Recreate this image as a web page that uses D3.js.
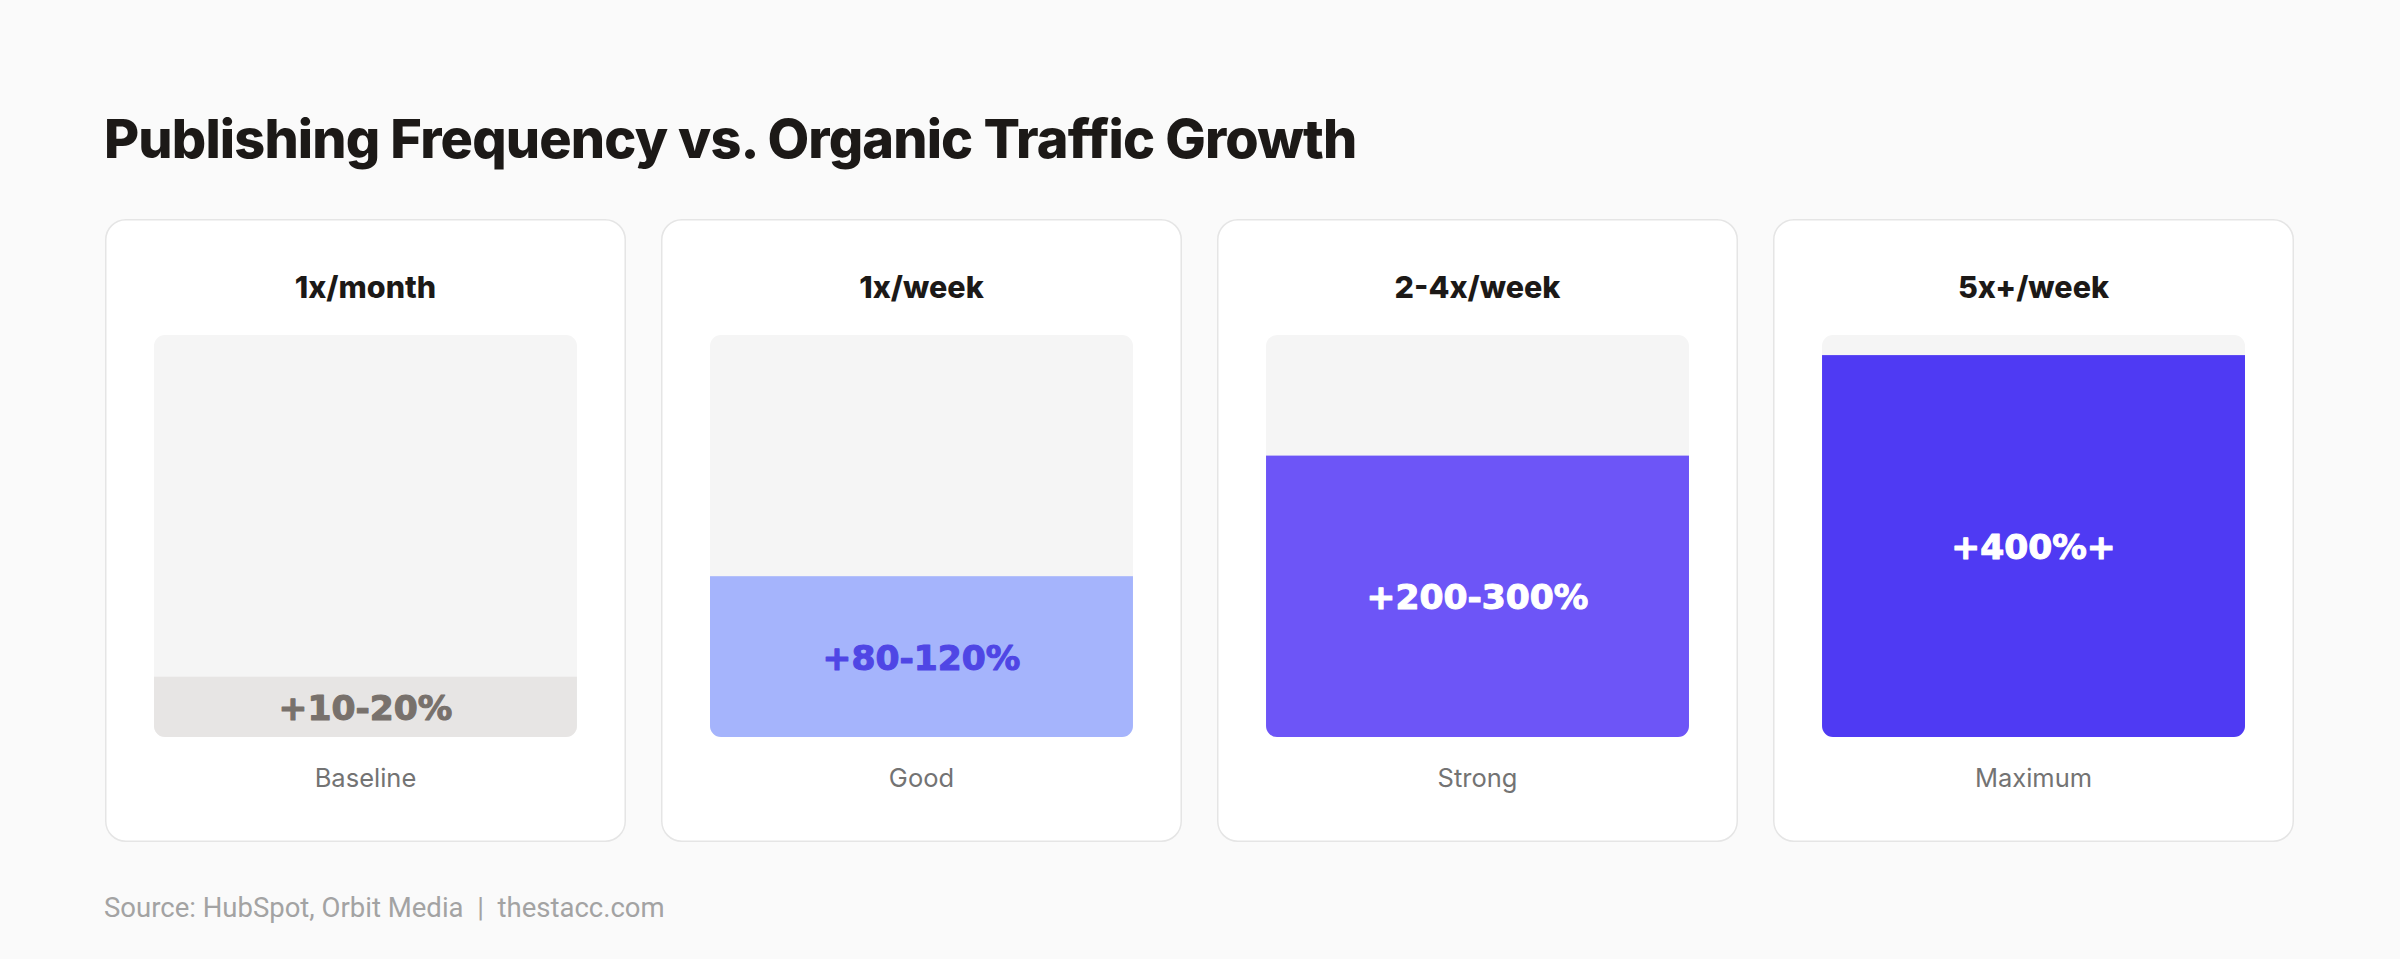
<!DOCTYPE html>
<html>
<head>
<meta charset="utf-8">
<script src="https://cdn.jsdelivr.net/npm/d3@7"></script>
<style>
  html, body { margin: 0; padding: 0; background: #fafafa; }
  svg { display: block; }
</style>
</head>
<body>
<svg id="chart" width="2400" height="959"></svg>
<script>
// ---- data ----
const title = "Publishing Frequency vs. Organic Traffic Growth";
const categories = ["1x/month", "1x/week", "2-4x/week", "5x+/week"];
const fillLevels = [15, 40, 70, 95];            // share of the bar filled (%)
const valueLabels = ["+10-20%", "+80-120%", "+200-300%", "+400%+"];
const tierLabels = ["Baseline", "Good", "Strong", "Maximum"];
const fillColors = ["#e7e5e4", "#a5b4fc", "#6d55f7", "#4f3af3"];
const labelColors = ["#78716c", "#4f46e5", "#ffffff", "#ffffff"];
const sourceText = "Source: HubSpot, Orbit Media  |  thestacc.com";

// ---- layout ----
const svg = d3.select("#chart");
const W = 2400, H = 959;
svg.append("rect").attr("width", W).attr("height", H).attr("fill", "#fafafa");

svg.append("text")
  .attr("x", 104).attr("y", 158)
  .attr("font-family", "Inter, sans-serif")
  .attr("font-weight", 800)
  .attr("font-size", 54)
  .attr("letter-spacing", "-0.85px")
  .attr("fill", "#1c1917")
  .text(title);

const cardTop = 219, cardBottom = 842;
const x = d3.scaleBand().domain(categories).range([105, 2294]).paddingInner(0.063).paddingOuter(0);
const barInset = 49, barTop = 335, barBottom = 737;
const y = d3.scaleLinear().domain([0, 100]).range([barBottom, barTop]);

const defs = svg.append("defs");

const cards = svg.selectAll("g.card").data(categories).join("g")
  .attr("class", "card")
  .attr("transform", d => `translate(${x(d)},0)`);

cards.append("rect")
  .attr("x", 0.75).attr("y", cardTop + 0.75)
  .attr("width", x.bandwidth() - 1.5).attr("height", cardBottom - cardTop - 1.5)
  .attr("rx", 20).attr("ry", 20)
  .attr("fill", "#ffffff").attr("stroke", "#e5e5e5").attr("stroke-width", 1.5);

cards.append("text")
  .attr("x", x.bandwidth() / 2).attr("y", 286)
  .attr("text-anchor", "middle").attr("dominant-baseline", "central")
  .attr("font-family", "Inter, sans-serif").attr("font-weight", 800)
  .attr("font-size", 30.5).attr("fill", "#1c1917")
  .text(d => d);

const barW = x.bandwidth() - 2 * barInset;
categories.forEach((c, i) => {
  defs.append("clipPath").attr("id", "clip" + i)
    .append("rect")
    .attr("x", barInset).attr("y", barTop)
    .attr("width", barW).attr("height", barBottom - barTop)
    .attr("rx", 11).attr("ry", 11);
});

cards.append("rect")
  .attr("x", barInset).attr("y", barTop)
  .attr("width", barW).attr("height", barBottom - barTop)
  .attr("rx", 11).attr("ry", 11)
  .attr("fill", "#f5f5f5");

cards.append("rect")
  .attr("clip-path", (d, i) => `url(#clip${i})`)
  .attr("x", barInset).attr("y", (d, i) => y(fillLevels[i]))
  .attr("width", barW).attr("height", (d, i) => y(0) - y(fillLevels[i]))
  .attr("fill", (d, i) => fillColors[i]);

cards.append("text")
  .attr("x", x.bandwidth() / 2)
  .attr("y", (d, i) => (y(fillLevels[i]) + y(0)) / 2 + 1)
  .attr("text-anchor", "middle").attr("dominant-baseline", "central")
  .attr("font-family", "'DejaVu Sans', sans-serif").attr("font-weight", 700)
  .attr("font-size", 34.5)
  .attr("fill", (d, i) => labelColors[i])
  .attr("stroke", (d, i) => labelColors[i]).attr("stroke-width", 1.1)
  .attr("stroke-linejoin", "round")
  .text((d, i) => valueLabels[i]);

cards.append("text")
  .attr("x", x.bandwidth() / 2).attr("y", 777)
  .attr("text-anchor", "middle").attr("dominant-baseline", "central")
  .attr("font-family", "Inter, sans-serif").attr("font-weight", 400)
  .attr("font-size", 25.5).attr("fill", "#737373")
  .text((d, i) => tierLabels[i]);

svg.append("text")
  .attr("x", 104).attr("y", 907)
  .attr("dominant-baseline", "central")
  .attr("font-family", "Roboto, sans-serif").attr("font-weight", 400)
  .attr("font-size", 27.5).attr("fill", "#a3a3a3")
  .attr("xml:space", "preserve").style("white-space", "pre")
  .text(sourceText);
</script>
</body>
</html>
